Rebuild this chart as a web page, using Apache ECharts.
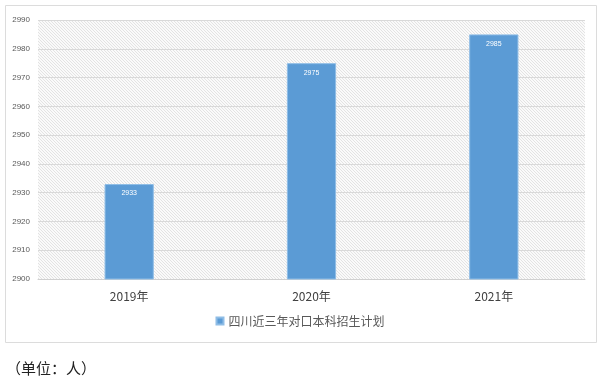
<!DOCTYPE html>
<html><head><meta charset="utf-8">
<script src="https://cdn.jsdelivr.net/npm/echarts@6/dist/echarts.min.js"></script>
<style>html,body{margin:0;padding:0;background:#fff}#c{width:600px;height:389px}</style>
</head><body><div id="c"></div>
<script>
const categories = ['2019年','2020年','2021年'];
const values = [2933, 2975, 2985];
const seriesName = '四川近三年对口本科招生计划';
const yMin = 2900, yMax = 2990, yStep = 10;
const unitText = '（单位：人）';

const pc = document.createElement('canvas');
pc.width = 6; pc.height = 6;
const g = pc.getContext('2d');
g.fillStyle = '#fafafa'; g.fillRect(0,0,6,6);
g.strokeStyle = '#e3e3e3'; g.lineWidth = 1;
for (let k=-6;k<=12;k+=3){ g.beginPath(); g.moveTo(k,0); g.lineTo(k+6,6); g.stroke(); }

const chart = echarts.init(document.getElementById('c'), null, {renderer:'canvas'});
chart.setOption({
  animation:false,
  backgroundColor:'#fff',
  grid:{left:38,right:15,top:20,bottom:110,show:true,borderWidth:0,backgroundColor:{image:pc,repeat:'repeat'}},
  graphic:[
    {type:'rect',shape:{x:5.5,y:5.5,width:591,height:337},style:{fill:'none',stroke:'#dcdcdc',lineWidth:1},z:-1},
    {type:'text',left:6,top:361,style:{text:unitText,font:'15px "Noto Sans CJK SC"',fill:'#222'}}
  ],
  legend:{data:[seriesName],bottom:57,left:'center',icon:'rect',itemWidth:7,itemHeight:7,itemGap:4,
    textStyle:{fontFamily:'Noto Sans CJK SC',fontSize:12,color:'#595959'}},
  xAxis:{type:'category',data:categories,axisLine:{lineStyle:{color:'#d0d0d0'}},axisTick:{show:false},
    axisLabel:{fontFamily:'Noto Sans CJK SC',fontSize:12,color:'#404040',margin:11}},
  yAxis:{type:'value',min:yMin,max:yMax,interval:yStep,axisLine:{show:false},axisTick:{show:false},
    splitLine:{lineStyle:{color:'#d9d9d9'}},
    axisLabel:{fontFamily:'Liberation Sans',fontSize:8,color:'#595959',margin:8,formatter:v=>String(v)}},
  series:[{name:seriesName,type:'bar',data:values,barWidth:'27%',
    itemStyle:{color:'#5B9BD5',borderColor:'#8fbde6',borderWidth:1},
    label:{show:true,position:'insideTop',distance:6,color:'#fff',fontSize:7,fontFamily:'Liberation Sans'}}]
});
</script></body></html>
